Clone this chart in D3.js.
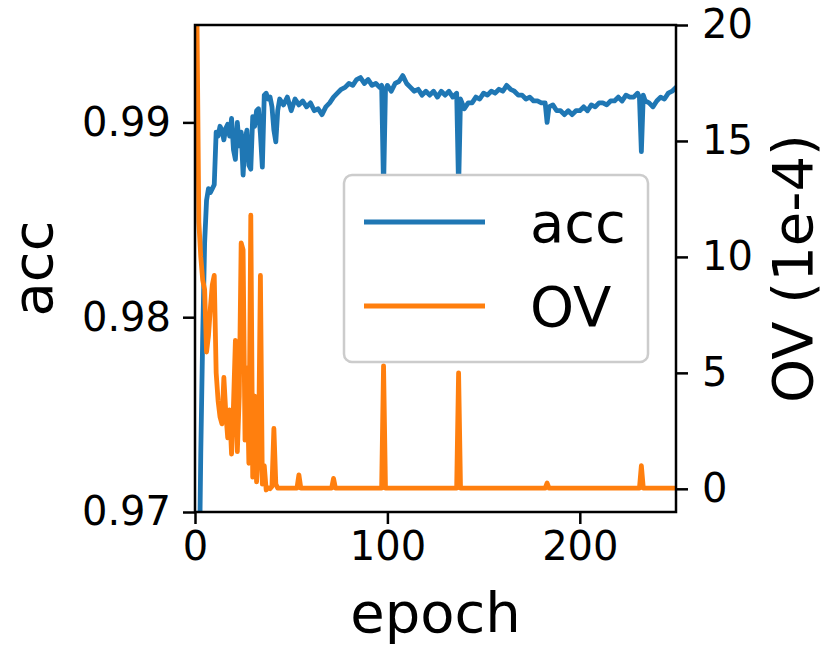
<!DOCTYPE html>
<html>
<head>
<meta charset="utf-8">
<script src="https://cdn.jsdelivr.net/npm/d3@7"></script>
<style>
  html, body { margin: 0; padding: 0; background: #ffffff; }
  svg { display: block; font-family: "DejaVu Sans", sans-serif; }
</style>
</head>
<body>
<svg id="chart" width="827" height="652"></svg>
<script>
// ---------- data ----------
const accEpochs = [0,1,2,3,4,5,6,7,8,9,10,11,12,13,14,15,16,17,18,19,20,21,22,23,24,25,26,27,28,29,30,31,32,33,34,35,36,37,38,39,40,41,42,43,44,46,48,50,52,54,56,58,60,62,64,66,68,70,72,74,76,78,80,82,84,86,88,90,92,94,96,97,98,99,100,102,104,106,108,110,112,114,116,118,120,122,124,126,128,130,132,134,136,137,138,140,142,144,146,148,150,152,154,156,158,160,162,164,166,168,170,172,174,176,178,180,182,183,184,186,188,190,192,194,196,198,200,202,204,206,208,210,212,214,216,218,220,222,224,226,228,230,231,232,233,234,236,238,240,242,244,246,248,250];
const accValues = [0.930,0.950,0.965,0.973,0.979,0.9838,0.9860,0.9866,0.9864,0.9866,0.9868,0.9895,0.9893,0.9898,0.9896,0.9891,0.9897,0.9899,0.9893,0.9902,0.9886,0.9881,0.9900,0.9888,0.9895,0.9873,0.9891,0.9896,0.9878,0.9876,0.9903,0.9898,0.9906,0.9907,0.9894,0.9877,0.9914,0.9915,0.9912,0.9913,0.9908,0.9896,0.9890,0.9906,
  0.9912,0.9909,0.9913,0.9906,0.9912,0.9909,0.9911,0.9908,0.9910,0.9906,0.9907,0.9904,0.9908,0.9910,0.9913,0.9915,0.9917,0.9918,0.9920,0.9919,0.9922,0.9923,0.9920,0.9922,0.9919,0.9920,0.9918,0.9919,0.9866,0.9917,0.9919,0.9916,0.9920,0.9921,0.9924,0.9920,0.9918,0.9916,0.9917,0.9914,0.9916,0.9914,0.9916,0.9913,0.9916,0.9914,0.9916,0.9913,0.9915,0.9866,0.9912,0.9907,0.9910,0.9910,0.9913,0.9912,0.9915,0.9914,0.9916,0.9915,0.9917,0.9916,0.9919,0.9917,0.9916,0.9914,0.9914,0.9912,0.9913,0.9911,0.9911,0.9910,0.9910,0.9900,0.9908,0.9909,0.9906,0.9906,0.9904,0.9906,0.9904,0.9906,0.9906,0.9908,0.9906,0.9909,0.9908,0.9910,0.9910,0.9909,0.9911,0.9911,0.9913,0.9911,0.9914,0.9913,0.9913,0.9915,0.9913,0.9885,0.9914,0.9911,0.9910,0.9908,0.9911,0.9913,0.9912,0.9915,0.9916,0.9918];

const ovEpochs = [0,1,2,3,4,5,6,7,8,9,10,11,12,13,14,15,16,17,18,19,20,21,22,23,24,25,26,27,28,29,30,31,32,33,34,35,36,37,38,39,40,41,42,43,53,54,55,71,72,73,97,98,99,136,137,138,182,183,184,231,232,233,250];
const ovValues = [30,20.5,11.5,10.0,9.0,8.6,5.9,6.6,7.8,8.8,9.2,5.0,3.8,3.1,2.8,4.8,3.3,2.2,3.4,1.5,3.6,6.4,1.6,4.0,10.6,10.3,2.1,5.2,1.1,11.8,0.5,4.0,0.3,1.5,9.2,0.2,1.0,-0.05,0.05,0.0,0.1,2.6,0.2,0.03,0.03,0.6,0.03,0.03,0.45,0.03,0.03,5.3,0.03,0.03,5.0,0.03,0.03,0.25,0.03,0.03,1.0,0.03,0.03];

const xTicks = [0, 100, 200];
const accTicks = [0.97, 0.98, 0.99];
const ovTicks = [0, 5, 10, 15, 20];
const seriesNames = ["acc", "OV"];
const seriesColors = ["#1f77b4", "#ff7f0e"];

// ---------- layout ----------
const L = 195, R = 676, T = 25, B = 512;
const svg = d3.select("#chart");

const x = d3.scaleLinear().domain([0, 250]).range([L, R]);
const yAcc = d3.scaleLinear().domain([0.97, 0.995]).range([B, T]);
const yOV = d3.scaleLinear().domain([-1, 20]).range([B, T]);

svg.append("defs").append("clipPath").attr("id", "plotclip")
  .append("rect").attr("x", L).attr("y", T).attr("width", R - L).attr("height", B - T);

const accData = accEpochs.map((e, i) => [e, accValues[i]]);
const ovData = ovEpochs.map((e, i) => [e, ovValues[i]]);

const lineW = 4.8;
const g = svg.append("g").attr("clip-path", "url(#plotclip)");
g.append("path").datum(accData)
  .attr("fill", "none").attr("stroke", seriesColors[0]).attr("stroke-width", lineW)
  .attr("stroke-linejoin", "round").attr("stroke-linecap", "round")
  .attr("d", d3.line().x(d => x(d[0])).y(d => yAcc(d[1])));
g.append("path").datum(ovData)
  .attr("fill", "none").attr("stroke", seriesColors[1]).attr("stroke-width", lineW)
  .attr("stroke-linejoin", "round").attr("stroke-linecap", "round")
  .attr("d", d3.line().x(d => x(d[0])).y(d => yOV(d[1])));

// ---------- axes ----------
const tickFont = 40, labelFont = 56;
function styleAxis(sel) {
  sel.select(".domain").remove();
  sel.selectAll(".tick line").attr("stroke", "#000").attr("stroke-width", 2.5);
  sel.selectAll(".tick text").attr("fill", "#000").style("font-size", tickFont + "px")
    .style("font-family", "'DejaVu Sans', sans-serif");
}
svg.append("g").attr("transform", `translate(0,${B})`)
  .call(d3.axisBottom(x).tickValues(xTicks).tickSize(12).tickPadding(8).tickFormat(d3.format("d")))
  .call(styleAxis);
svg.append("g").attr("transform", `translate(${L},0)`)
  .call(d3.axisLeft(yAcc).tickValues(accTicks).tickSize(12).tickPadding(12).tickFormat(d3.format(".2f")))
  .call(styleAxis);
svg.append("g").attr("transform", `translate(${R},0)`)
  .call(d3.axisRight(yOV).tickValues(ovTicks).tickSize(12).tickPadding(14).tickFormat(d3.format("d")))
  .call(styleAxis);

// spines
svg.append("rect").attr("x", L).attr("y", T).attr("width", R - L).attr("height", B - T)
  .attr("fill", "none").attr("stroke", "#000").attr("stroke-width", 2.5);

// ---------- axis labels ----------
svg.append("text").attr("x", (L + R) / 2).attr("y", 632).attr("text-anchor", "middle")
  .style("font-size", labelFont + "px").text("epoch");
svg.append("text").attr("transform", `translate(52,${(T + B) / 2}) rotate(-90)`)
  .attr("text-anchor", "middle").style("font-size", labelFont + "px").text("acc");
svg.append("text").attr("transform", `translate(812,${(T + B) / 2}) rotate(-90)`)
  .attr("text-anchor", "middle").style("font-size", labelFont + "px").text("OV (1e-4)");

// ---------- legend ----------
const lg = svg.append("g");
lg.append("rect").attr("x", 344).attr("y", 175).attr("width", 304).attr("height", 187)
  .attr("rx", 8).attr("fill", "#fff").attr("stroke", "#cccccc").attr("stroke-width", 2.5);
const legendRows = [222, 306];
seriesNames.forEach((name, i) => {
  lg.append("line").attr("x1", 364).attr("x2", 485).attr("y1", legendRows[i]).attr("y2", legendRows[i])
    .attr("stroke", seriesColors[i]).attr("stroke-width", 5);
  lg.append("text").attr("x", 530).attr("y", legendRows[i] + 20)
    .style("font-size", labelFont + "px").text(name);
});
</script>
</body>
</html>
